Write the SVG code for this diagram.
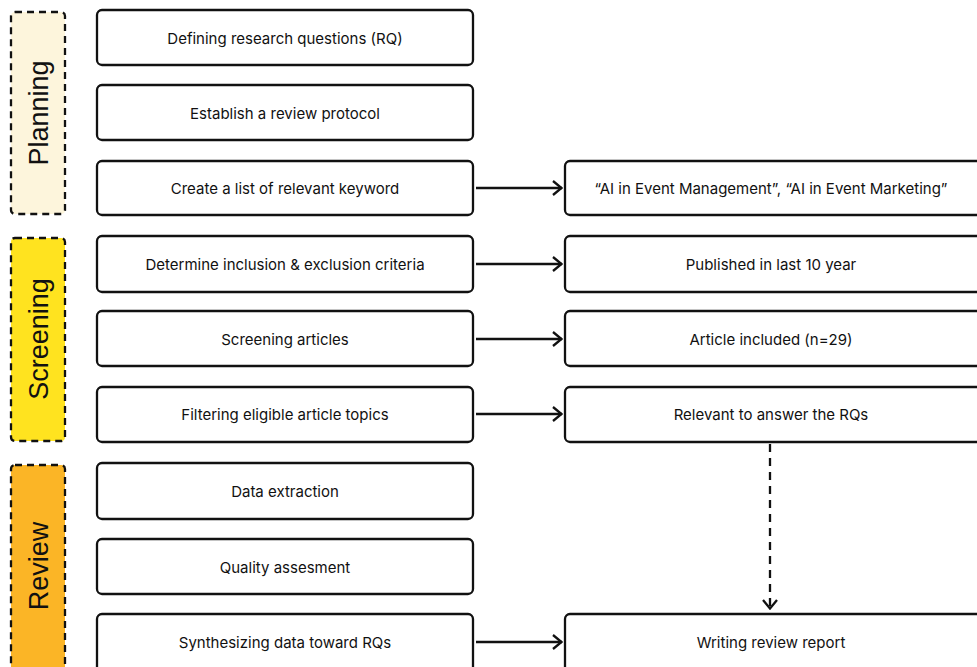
<svg xmlns="http://www.w3.org/2000/svg" width="977" height="667" viewBox="0 0 977 667">
<defs>
<style>
.box{fill:#fff;stroke:#111;stroke-width:2.3;}
.t{font-family:Inter,"Liberation Sans",sans-serif;font-size:15px;fill:#111;text-anchor:middle;dominant-baseline:central;}
.phase{stroke:#111;stroke-width:2.3;stroke-dasharray:7 5;}
.pt{font-family:"Liberation Sans",Arial,sans-serif;font-size:27px;fill:#111;text-anchor:middle;dominant-baseline:central;}
.conn{stroke:#111;stroke-width:2.3;fill:none;}
</style>
<marker id="ah" viewBox="0 0 12 16" refX="11" refY="8" markerWidth="12" markerHeight="16" markerUnits="userSpaceOnUse" orient="auto">
<path d="M2,1 L10.5,8 L2,15" fill="none" stroke="#111" stroke-width="2.3"/>
</marker>
</defs>
<rect width="977" height="667" fill="#fff"/>
<g id="phase-planning"><rect class="phase" x="11" y="12" width="54" height="202" rx="4" fill="#fdf5dc"/><text class="pt" transform="translate(39,113) rotate(-90)">Planning</text></g>
<g id="phase-screening"><rect class="phase" x="11" y="238" width="54" height="203" rx="4" fill="#ffe31f"/><text class="pt" transform="translate(39,339) rotate(-90)">Screening</text></g>
<g id="phase-review"><rect class="phase" x="11" y="465" width="54" height="206" rx="4" fill="#fbb526"/><text class="pt" transform="translate(39,566) rotate(-90)">Review</text></g>
<g id="n1"><rect class="box" x="97" y="10" width="376" height="55" rx="5"/><text class="t" x="285" y="38">Defining research questions (RQ)</text></g>
<g id="n2"><rect class="box" x="97" y="85" width="376" height="55" rx="5"/><text class="t" x="285" y="113">Establish a review protocol</text></g>
<g id="n3"><rect class="box" x="97" y="161" width="376" height="54" rx="5"/><text class="t" x="285" y="188">Create a list of relevant keyword</text></g>
<g id="n4"><rect class="box" x="97" y="236" width="376" height="56" rx="5"/><text class="t" x="285" y="264">Determine inclusion &amp; exclusion criteria</text></g>
<g id="n5"><rect class="box" x="97" y="311" width="376" height="55" rx="5"/><text class="t" x="285" y="339">Screening articles</text></g>
<g id="n6"><rect class="box" x="97" y="387" width="376" height="55" rx="5"/><text class="t" x="285" y="414">Filtering eligible article topics</text></g>
<g id="n7"><rect class="box" x="97" y="463" width="376" height="56" rx="5"/><text class="t" x="285" y="491">Data extraction</text></g>
<g id="n8"><rect class="box" x="97" y="539" width="376" height="55" rx="5"/><text class="t" x="285" y="567">Quality assesment</text></g>
<g id="n9"><rect class="box" x="97" y="614" width="376" height="60" rx="5"/><text class="t" x="285" y="642">Synthesizing data toward RQs</text></g>
<g id="r3"><rect class="box" x="565" y="161" width="420" height="54" rx="5"/><text class="t" x="771" y="188">“AI in Event Management”, “AI in Event Marketing”</text></g>
<g id="r4"><rect class="box" x="565" y="236" width="420" height="56" rx="5"/><text class="t" x="771" y="264">Published in last 10 year</text></g>
<g id="r5"><rect class="box" x="565" y="311" width="420" height="55" rx="5"/><text class="t" x="771" y="339">Article included (n=29)</text></g>
<g id="r6"><rect class="box" x="565" y="387" width="420" height="55" rx="5"/><text class="t" x="771" y="414">Relevant to answer the RQs</text></g>
<g id="r9"><rect class="box" x="565" y="614" width="420" height="60" rx="5"/><text class="t" x="771" y="642">Writing review report</text></g>
<g id="connectors">
<line class="conn" x1="476" y1="188" x2="562" y2="188" marker-end="url(#ah)"/>
<line class="conn" x1="476" y1="264" x2="562" y2="264" marker-end="url(#ah)"/>
<line class="conn" x1="476" y1="339" x2="562" y2="339" marker-end="url(#ah)"/>
<line class="conn" x1="476" y1="414" x2="562" y2="414" marker-end="url(#ah)"/>
<line class="conn" x1="476" y1="642" x2="562" y2="642" marker-end="url(#ah)"/>
<line class="conn" x1="770" y1="444" x2="770" y2="609" stroke-dasharray="8 6" marker-end="url(#ah)"/>
</g>
</svg>
